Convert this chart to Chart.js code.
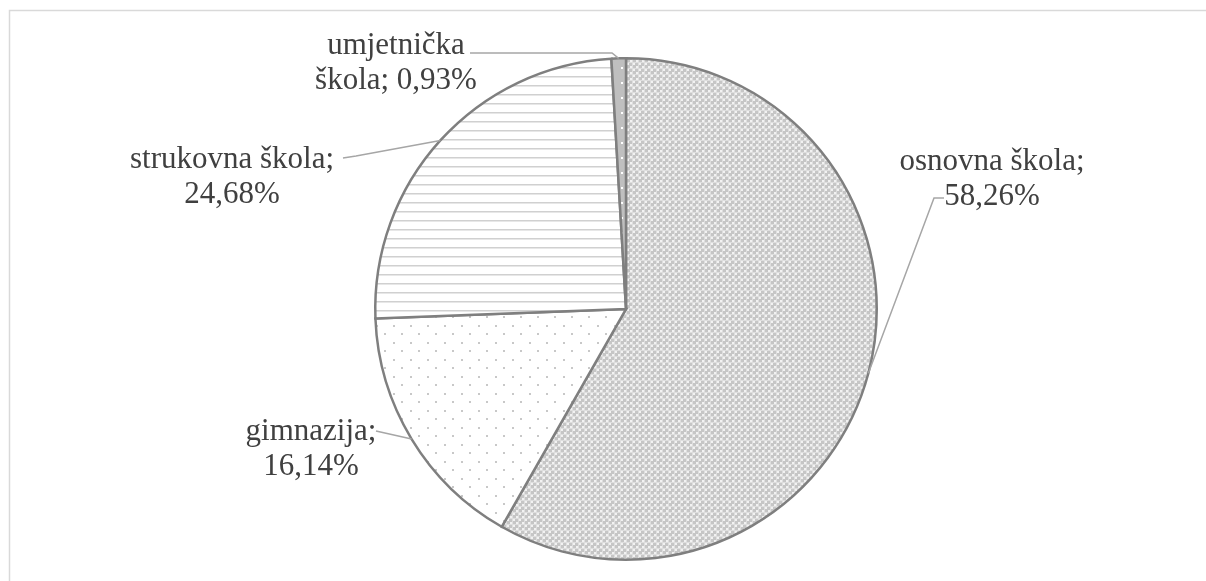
<!DOCTYPE html>
<html>
<head>
<meta charset="utf-8">
<script src="https://cdn.jsdelivr.net/npm/chart.js@4"></script>
<style>
  html, body { margin: 0; padding: 0; background: #fff; }
  #wrap { width: 1206px; height: 581px; position: relative; }
</style>
</head>
<body>
<div id="wrap"><canvas id="pie-chart"></canvas></div>
<script>
/* podaci */
var categories = ['osnovna škola', 'gimnazija', 'strukovna škola', 'umjetnička škola'];
var shares = [58.26, 16.14, 24.68, 0.93];
var labelLines = [
    ['osnovna škola;', '58,26%'],
    ['gimnazija;', '16,14%'],
    ['strukovna škola;', '24,68%'],
    ['umjetnička', 'škola; 0,93%']
];

/* raspored oznaka: sredina teksta, y prvog retka, početak linije */
var labelLayout = [
    { x: 992, y: 162, line: [[944, 198], [934, 198]] },
    { x: 311, y: 432, line: [[376, 431]] },
    { x: 232, y: 160, line: [[343, 158], [356, 156]] },
    { x: 396, y: 46, line: [[470, 53], [612, 53]] }
];

function makePattern(size, draw) {
    var c = document.createElement('canvas');
    c.width = size; c.height = size;
    var g = c.getContext('2d');
    draw(g, size);
    return document.createElement('canvas').getContext('2d').createPattern(c, 'repeat');
}

var fillOsnovna = makePattern(6, function(g){
    g.fillStyle = '#c6c6c6';
    g.fillRect(0, 0, 6, 6);
    g.fillStyle = '#f2f2f2';
    g.fillRect(0, 0, 2, 2);
    g.fillRect(3, 3, 2, 2);
    g.fillStyle = '#dedede';
    g.fillRect(2, 0, 1, 6);
    g.fillRect(0, 2, 6, 1);
});
var fillGimnazija = makePattern(17, function(g){
    g.fillStyle = '#ffffff';
    g.fillRect(0, 0, 17, 17);
    g.fillStyle = '#c8c8c8';
    g.fillRect(2, 2, 2, 2);
    g.fillRect(10, 10, 2, 2);
});
var fillStrukovna = makePattern(9, function(g){
    g.fillStyle = '#ffffff';
    g.fillRect(0, 0, 9, 9);
    g.fillStyle = '#d0d0d0';
    g.fillRect(0, 4, 9, 1.5);
});
var fillUmjetnicka = makePattern(15, function(g){
    g.fillStyle = '#bfbfbf';
    g.fillRect(0, 0, 15, 15);
    g.fillStyle = '#ffffff';
    g.fillRect(6, 7, 2, 2);
});

var framePlugin = {
    id: 'frame',
    beforeDraw: function(chart){
        var ctx = chart.ctx;
        ctx.save();
        ctx.strokeStyle = '#d9d9d9';
        ctx.lineWidth = 1.5;
        ctx.beginPath();
        ctx.moveTo(9.5, 600);
        ctx.lineTo(9.5, 10.5);
        ctx.lineTo(1210, 10.5);
        ctx.stroke();
        ctx.restore();
    }
};

var labelPlugin = {
    id: 'pieLabels',
    afterDatasetsDraw: function(chart){
        var ctx = chart.ctx;
        var meta = chart.getDatasetMeta(0);
        ctx.save();
        for (var i = 0; i < meta.data.length; i++) {
            var arc = meta.data[i];
            var mid = (arc.startAngle + arc.endAngle) / 2;
            var ex = arc.x + Math.cos(mid) * arc.outerRadius;
            var ey = arc.y + Math.sin(mid) * arc.outerRadius;
            var lay = labelLayout[i];
            ctx.strokeStyle = '#a6a6a6';
            ctx.lineWidth = 1.5;
            ctx.beginPath();
            ctx.moveTo(lay.line[0][0], lay.line[0][1]);
            for (var k = 1; k < lay.line.length; k++) {
                ctx.lineTo(lay.line[k][0], lay.line[k][1]);
            }
            ctx.lineTo(ex, ey);
            ctx.stroke();

            ctx.fillStyle = '#404040';
            ctx.font = '31px "Liberation Serif", "Times New Roman", serif';
            ctx.textAlign = 'center';
            ctx.textBaseline = 'middle';
            for (var j = 0; j < labelLines[i].length; j++) {
                ctx.fillText(labelLines[i][j], lay.x, lay.y + j * 35);
            }
        }
        ctx.restore();
    }
};

var piectx = document.getElementById('pie-chart');
var pieConfig = {
    type: 'pie',
    data: {
        labels: categories,
        datasets: [{
            data: shares,
            backgroundColor: [fillOsnovna, fillGimnazija, fillStrukovna, fillUmjetnicka],
            borderColor: '#7f7f7f',
            borderWidth: 2.5,
            borderJoinStyle: 'miter'
        }]
    },
    options: {
        responsive: true,
        maintainAspectRatio: false,
        animation: false,
        layout: {
            padding: { left: 374, right: 328, top: 57, bottom: 20 }
        },
        plugins: {
            legend: { display: false },
            tooltip: { enabled: false }
        }
    },
    plugins: [framePlugin, labelPlugin]
};
var pieChart = new Chart(piectx, pieConfig);
</script>
</body>
</html>
